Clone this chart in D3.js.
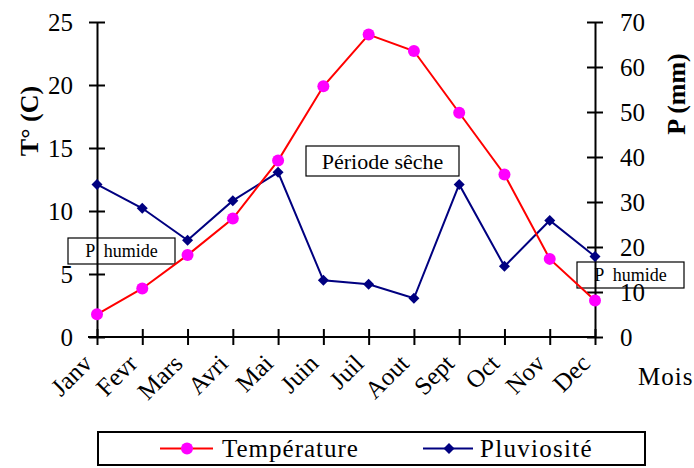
<!DOCTYPE html>
<html>
<head>
<meta charset="utf-8">
<script src="https://cdn.jsdelivr.net/npm/d3@7"></script>
<style>
  html, body { margin: 0; padding: 0; background: #fff; }
  svg { display: block; }
  svg text { font-family: "Liberation Serif", "Times New Roman", serif !important; }
</style>
</head>
<body>
<svg id="chart" width="694" height="468"></svg>
<script>
// ---- Data ----
const months = ["Janv","Fevr","Mars","Avri","Mai","Juin","Juil","Aout","Sept","Oct","Nov","Dec"];
const temperature = [1.8, 3.85, 6.5, 9.4, 14.0, 19.9, 24.0, 22.7, 17.8, 12.9, 6.2, 2.9];
const pluviosite = [33.9, 28.6, 21.5, 30.3, 36.6, 12.6, 11.7, 8.6, 33.9, 15.7, 25.9, 17.9];
const tempTicks = [0, 5, 10, 15, 20, 25];
const pluvTicks = [0, 10, 20, 30, 40, 50, 60, 70];
const seriesNames = ["Température", "Pluviosité"];
const annotations = ["Période sêche", "P  humide", "P  humide"];

// ---- Layout ----
const svg = d3.select("#chart");
const pLeft = 97, pRight = 595, pTop = 22, pBottom = 337;
const x = d3.scalePoint().domain(months).range([pLeft, pRight]).padding(0);
const yT = d3.scaleLinear().domain([0, 25]).range([pBottom, pTop]);
const yP = d3.scaleLinear().domain([0, 70]).range([pBottom, pTop]);

const FONT = 25;

// ---- Annotation boxes (beneath axes & series) ----
const boxes = [
  {text: annotations[0], x: 306, y: 146, w: 153, h: 30, fs: 22},
  {text: annotations[1], x: 68, y: 238, w: 107, h: 26, fs: 18},
  {text: annotations[2], x: 577, y: 262, w: 107, h: 26, fs: 18}
];
const gb = svg.append("g");
boxes.forEach(b => {
  gb.append("rect").attr("x", b.x).attr("y", b.y).attr("width", b.w).attr("height", b.h)
    .attr("fill", "#fff").attr("stroke", "#000").attr("stroke-width", 1.2);
  gb.append("text").attr("x", b.x + b.w / 2).attr("y", b.y + b.h / 2)
    .attr("text-anchor", "middle").attr("dominant-baseline", "central")
    .attr("font-size", b.fs).style("white-space", "pre")
    .text(b.text);
});

// ---- Axes ----
function styleAxis(g) {
  g.attr("font-family", null);
  g.selectAll(".domain").attr("stroke", "#000").attr("stroke-width", 2);
  g.selectAll(".tick line").attr("stroke", "#000").attr("stroke-width", 2);
  g.selectAll(".tick text").attr("fill", "#000").attr("font-size", FONT);
}

const gx = svg.append("g").attr("transform", `translate(0,${pBottom})`)
  .call(d3.axisBottom(x).tickSize(8).tickSizeOuter(0).tickPadding(0));
gx.selectAll(".tick line").attr("y1", -8);
gx.selectAll(".tick text")
  .attr("text-anchor", "end").attr("dy", null).attr("y", null)
  .attr("transform", "translate(-4,28) rotate(-45)");
styleAxis(gx);
gx.select(".domain").attr("d", `M${pLeft - 9},0H${pRight}`);

const gl = svg.append("g").attr("transform", `translate(${pLeft},0)`)
  .call(d3.axisLeft(yT).tickValues(tempTicks).tickSize(8).tickSizeOuter(0).tickPadding(16));
gl.selectAll(".tick line").attr("x1", 8);
styleAxis(gl);
gl.selectAll(".tick text").attr("dy", "0.34em");

const gr = svg.append("g").attr("transform", `translate(${pRight},0)`)
  .call(d3.axisRight(yP).tickValues(pluvTicks).tickSize(8).tickSizeOuter(0).tickPadding(17));
gr.selectAll(".tick line").attr("x1", -8);
styleAxis(gr);
gr.selectAll(".tick text").attr("dy", "0.34em");

// ---- Axis titles ----
svg.append("text").attr("transform", "translate(38,121) rotate(-90)")
  .attr("text-anchor", "middle").attr("font-size", 26).attr("font-weight", "bold").text("T° (C)");
svg.append("text").attr("transform", "translate(685,94) rotate(-90)")
  .attr("text-anchor", "middle").attr("font-size", 26).attr("font-weight", "bold").text("P (mm)");
svg.append("text").attr("x", 638).attr("y", 385).attr("font-size", FONT)
  .attr("letter-spacing", 1).text("Mois");

// ---- Series ----
const lineT = d3.line().x((d, i) => x(months[i])).y(d => yT(d));
const lineP = d3.line().x((d, i) => x(months[i])).y(d => yP(d));

function diamondPath(cx, cy, r) {
  return `M${cx},${cy - r}L${cx + r},${cy}L${cx},${cy + r}L${cx - r},${cy}Z`;
}

svg.append("path").datum(pluviosite).attr("d", lineP)
  .attr("fill", "none").attr("stroke", "#000080").attr("stroke-width", 2);
svg.append("path").datum(temperature).attr("d", lineT)
  .attr("fill", "none").attr("stroke", "#FF0000").attr("stroke-width", 2);

svg.append("g").selectAll("path").data(pluviosite).join("path")
  .attr("d", (d, i) => diamondPath(x(months[i]), yP(d), 5.5))
  .attr("fill", "#000080");
svg.append("g").selectAll("circle").data(temperature).join("circle")
  .attr("cx", (d, i) => x(months[i])).attr("cy", d => yT(d)).attr("r", 6)
  .attr("fill", "#FF00FF");

// ---- Legend ----
const lg = svg.append("g");
lg.append("rect").attr("x", 98).attr("y", 432).attr("width", 547).attr("height", 33)
  .attr("fill", "#fff").attr("stroke", "#000").attr("stroke-width", 2);
const ly = 448.5;
lg.append("line").attr("x1", 160).attr("x2", 213).attr("y1", ly).attr("y2", ly)
  .attr("stroke", "#FF0000").attr("stroke-width", 2);
lg.append("circle").attr("cx", 187).attr("cy", ly).attr("r", 6).attr("fill", "#FF00FF");
lg.append("text").attr("x", 222).attr("y", 457).attr("font-size", FONT)
  .attr("letter-spacing", 1).text(seriesNames[0]);
lg.append("line").attr("x1", 423).attr("x2", 473).attr("y1", ly).attr("y2", ly)
  .attr("stroke", "#000080").attr("stroke-width", 2);
lg.append("path").attr("d", diamondPath(449, ly, 5.5)).attr("fill", "#000080");
lg.append("text").attr("x", 480).attr("y", 457).attr("font-size", FONT)
  .attr("letter-spacing", 1.3).text(seriesNames[1]);
</script>
</body>
</html>
